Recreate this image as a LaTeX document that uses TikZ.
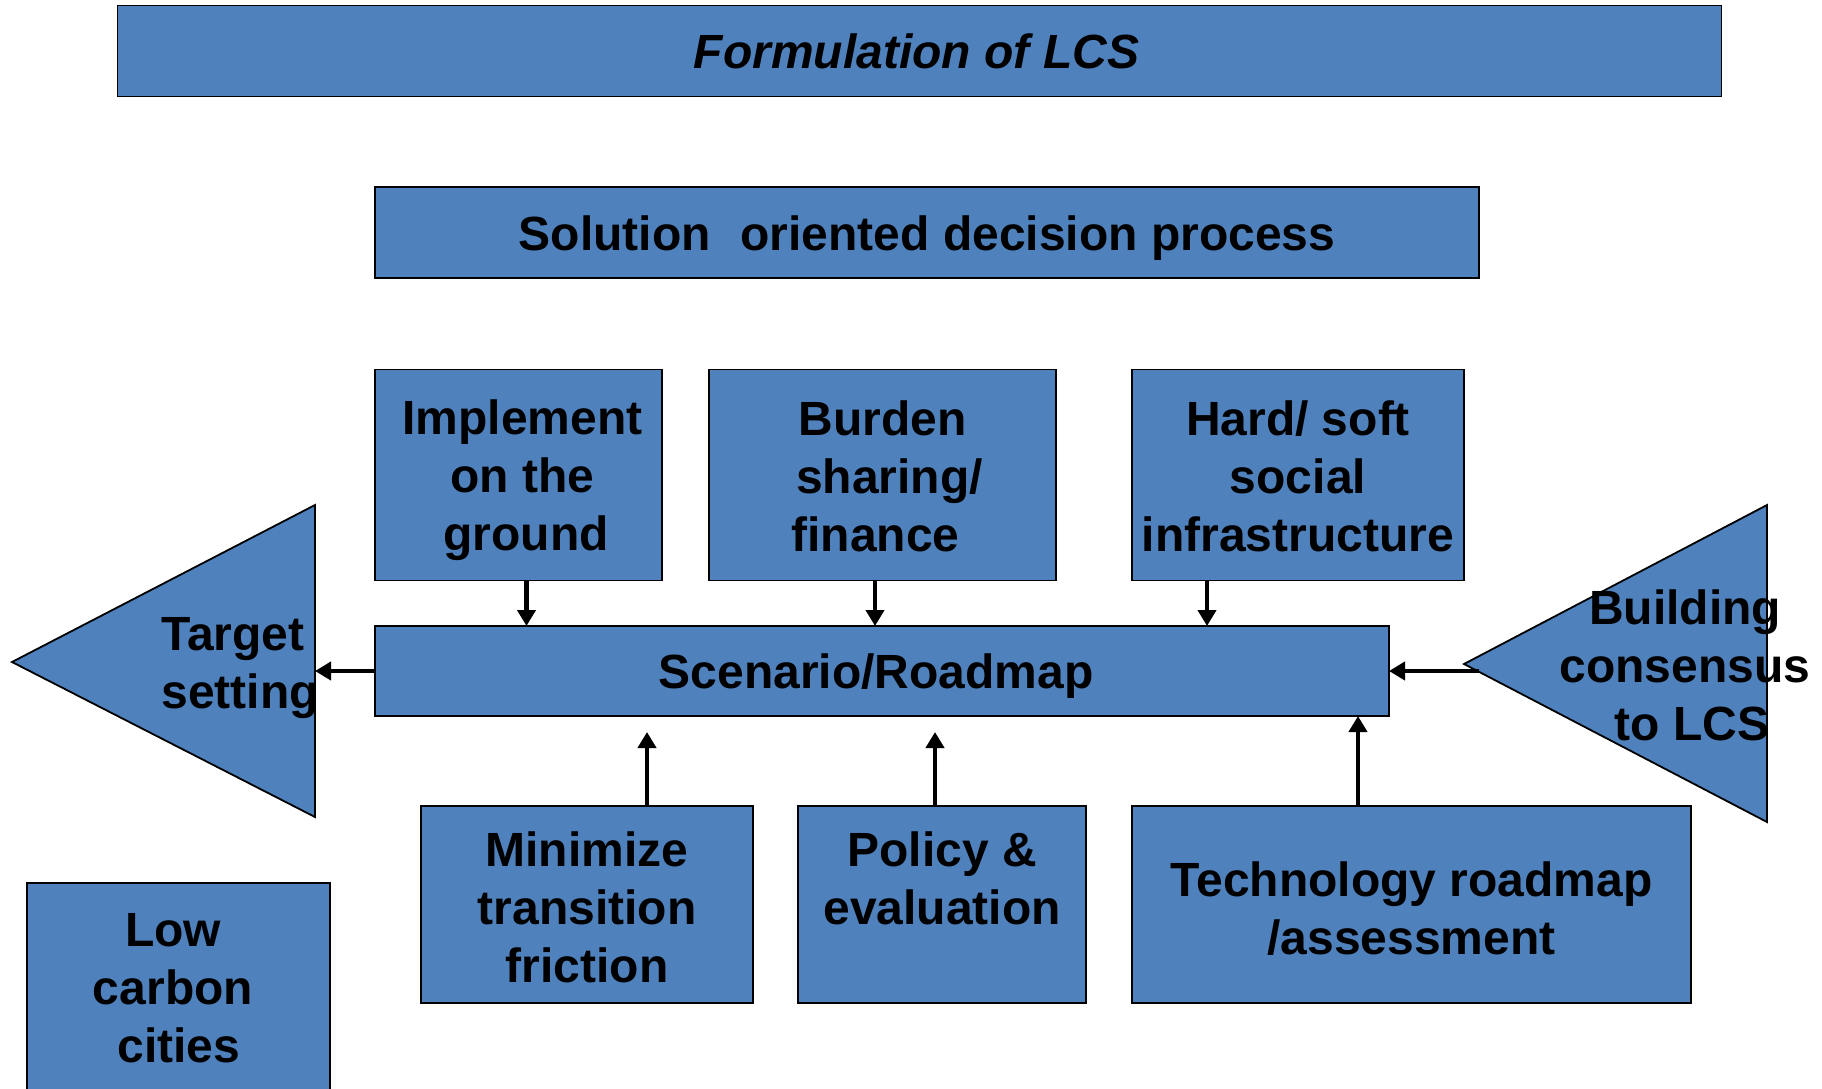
\documentclass[tikz,border=0pt]{standalone}
\usepackage{fontspec}
\setmainfont{Liberation Sans}
\usetikzlibrary{arrows.meta}
\definecolor{boxblue}{HTML}{4F81BD}
\tikzset{
  box/.style={draw=black, line width=1.8pt, fill=boxblue, inner sep=0pt, outer sep=0pt},
  txt/.style={inner sep=0pt, outer sep=0pt, align=center, font=\fontsize{48}{58}\selectfont\bfseries},
  tri/.style={draw=black, line width=1.8pt, fill=boxblue},
  arr/.style={line width=4.5pt, -{Triangle[length=16pt,width=18pt]}}
}
\begin{document}
\begin{tikzpicture}[x=1pt,y=-1pt]
\useasboundingbox (0,0) rectangle (1822,1088);
% top boxes
\node[box, minimum width=1604pt, minimum height=91pt] (title) at (919.5,51) {};
\node[txt] (titleT) at ([xshift=-3pt]title.center) {\itshape Formulation of LCS};
\node[box, minimum width=1104pt, minimum height=91pt] (sol) at (927,232.5) {};
\node[txt] (solT) at ([yshift=-6pt]sol.center) {Solution\hspace{0.62em}oriented decision process};
% upper row
\node[box, minimum width=287pt, minimum height=211pt] (impl) at (518.5,475) {};
\node[txt] (implT) at ([xshift=4pt,yshift=-5pt]impl.center) {Implement\\on the\\\hspace*{7pt}ground};
\node[box, minimum width=347pt, minimum height=211pt] (burden) at (882.5,475) {};
\node[txt] (burdenT) at ([yshift=-1pt]burden.center) {Burden\\\hspace*{14pt}sharing/\\finance\hspace*{14pt}};
\node[box, minimum width=332pt, minimum height=211pt] (hard) at (1298,475) {};
\node[txt] (hardT) at ([yshift=-1pt]hard.center) {Hard/ soft\\social\\infrastructure};
% scenario
\node[box, minimum width=1014pt, minimum height=90pt] (scen) at (882,671) {};
\node[txt] (scenT) at (876,676.5) {Scenario/Roadmap};
% lower row
\node[box, minimum width=332pt, minimum height=197pt] (minim) at (587,904.5) {};
\node[txt] (minimT) at ([yshift=-3pt]minim.center) {Minimize\\transition\\friction};
\node[box, minimum width=288pt, minimum height=197pt] (policy) at (942,904.5) {};
\node[txt] (policyT) at (942,878) {Policy \&\\evaluation};
\node[box, minimum width=559pt, minimum height=197pt] (tech) at (1411.5,904.5) {};
\node[txt] (techT) at ([yshift=-4pt]tech.center) {Technology roadmap\\/assessment};
% low carbon cities (runs off the page)
\node[box, minimum width=303pt, minimum height=212pt] (lowc) at (178.5,989) {};
\node[txt] (lowcT) at (173,988) {Low\\carbon\\\hspace*{12pt}cities};
% triangles
\draw[tri] (12,662) -- (315,505) -- (315,817) -- cycle;
\coordinate (tgtEdge) at (315,671);
\node[txt, align=left, anchor=west] (tgtT) at (161.5,668.5) {Target\\setting};
\draw[tri] (1464,664) -- (1767,505) -- (1767,822) -- cycle;
\coordinate (bldStart) at (1479,671);
\node[txt] (bldT) at (1685,665) {Building\\consensus\\\hspace*{14pt}to LCS};
% side arrows
\draw[arr] (scen.west) -- (scen.west -| tgtEdge);
\draw[arr] (bldStart) -- (bldStart -| scen.east);
% down arrows
\coordinate (d1) at ([xshift=8pt]impl.south);
\coordinate (d2) at ([xshift=-7.5pt]burden.south);
\coordinate (d3) at ([xshift=-91pt]hard.south);
\draw[arr] (d1) -- (d1 |- scen.north);
\draw[arr] (d2) -- (d2 |- scen.north);
\draw[arr] (d3) -- (d3 |- scen.north);
% up arrows
\coordinate (u1) at ([xshift=60pt]minim.north);
\coordinate (u2) at ([xshift=-7pt]policy.north);
\coordinate (u3) at ([xshift=-53.5pt]tech.north);
\draw[arr, shorten >=16pt] (u1) -- (u1 |- scen.south);
\draw[arr, shorten >=16pt] (u2) -- (u2 |- scen.south);
\draw[arr] (u3) -- (u3 |- scen.south);
\end{tikzpicture}
\end{document}
